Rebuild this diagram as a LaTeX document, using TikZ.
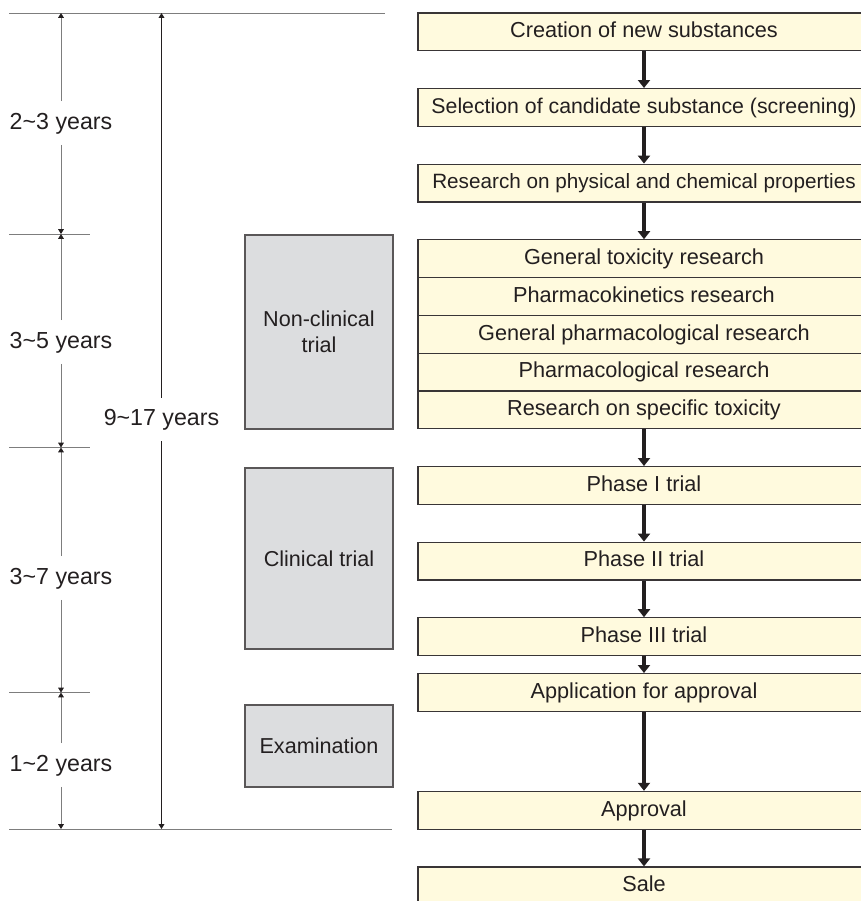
\documentclass[tikz,border=0pt]{standalone}
\usepackage{fontspec}
\setmainfont{Liberation Sans}
\usetikzlibrary{matrix,arrows.meta}

\definecolor{boxfill}{RGB}{255,250,222}
\definecolor{greyfill}{RGB}{220,221,223}
\definecolor{inkcol}{RGB}{35,31,32}
\definecolor{rulecol}{RGB}{125,125,125}

\tikzset{
    stagebox/.style={draw=inkcol!90, fill=boxfill, line width=0.6pt, minimum width=226pt, minimum height=18.9pt, inner sep=0pt, text height=8.1pt, text depth=2.3pt, anchor=center, text=inkcol, font=\fontsize{10.85}{13}\selectfont},
    phasebox/.style={draw=inkcol!75, fill=greyfill, line width=0.6pt, minimum width=74pt, inner sep=0pt, align=center, text=inkcol, font=\fontsize{10.8}{13}\selectfont},
    yearlabel/.style={inner xsep=0pt, inner ysep=5.3pt, text height=8.4pt, text depth=2.4pt, text=inkcol, font=\fontsize{11.6}{13}\selectfont},
    flow/.style={-{Triangle[length=4pt,width=6pt]}, line width=2pt, draw=inkcol},
    dimtip/.style={-{Triangle[length=2.4pt,width=2.8pt,color=inkcol]}, line width=0.5pt, draw=rulecol},
    rule/.style={line width=0.5pt, draw=rulecol}
}

\begin{document}
\begin{tikzpicture}[x=0.5pt,y=-0.5pt]
    \path[use as bounding box, clip] (0,0) rectangle (861,901);
    \matrix[matrix of nodes, nodes={stagebox}, row sep=18.3pt, inner sep=0pt, anchor=north west] (m) at (417,12) {
        Creation of new substances \\
        |[font=\fontsize{10.65}{13}\selectfont]| Selection of candidate substance (screening) \\
        |[font=\fontsize{10.35}{13}\selectfont]| Research on physical and chemical properties \\
        General toxicity research \\[-18.9pt]
        Pharmacokinetics research \\[-18.9pt]
        General pharmacological research \\[-18.9pt]
        Pharmacological research \\[-18.9pt]
        Research on specific toxicity \\
        Phase I trial \\
        Phase II trial \\
        Phase III trial \\[-9.9pt]
        Application for approval \\[21.1pt]
        Approval \\
        Sale \\
    };
    \foreach \a/\b in {1/2,2/3,3/4,8/9,9/10,10/11,11/12,12/13,13/14}
        \draw[flow] (m-\a-1) -- (m-\b-1);

    \node[phasebox, minimum height=97pt] (nonclin) at (319,332) {Non-clinical\\trial};
    \node[phasebox, minimum height=90.5pt] (clin) at (319,558.5) {Clinical trial};
    \node[phasebox, minimum height=41pt] (exam) at (319,746) {Examination};

    \foreach \y/\xe in {13/385,234/90,447.5/90,692.5/90,829/392}
        \draw[rule] (9,\y) -- (\xe,\y);

    \foreach \ya/\ym/\yb/\txt [count=\i] in {13/123/234/2\textasciitilde3, 234/342/447.5/3\textasciitilde5, 447.5/578/692.5/3\textasciitilde7, 692.5/765/829/1\textasciitilde2} {
        \coordinate (t\i) at (61,\ya);
        \coordinate (b\i) at (61,\yb);
        \node[yearlabel] (yr\i) at (61,\ym) {\txt{} years};
        \draw[dimtip] (yr\i) -- (t\i);
        \draw[dimtip] (yr\i) -- (b\i);
    }

    \coordinate (ttop) at (161.5,13);
    \coordinate (tbot) at (161.5,829);
    \node[yearlabel] (total) at (161.5,419.5) {9\textasciitilde17 years};
    \draw[dimtip, draw=inkcol] (total) -- (ttop);
    \draw[dimtip, draw=inkcol] (total) -- (tbot);
\end{tikzpicture}
\end{document}
